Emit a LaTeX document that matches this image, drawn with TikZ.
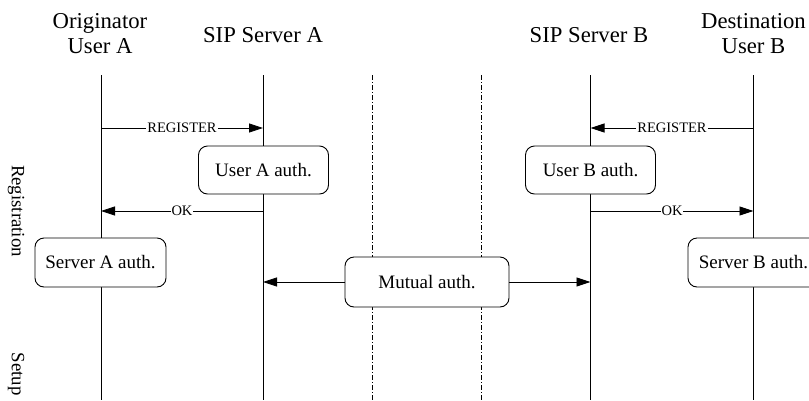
\documentclass[tikz,border=0pt]{standalone}
\usepackage{fontspec}
\setmainfont{Liberation Serif}
\usetikzlibrary{arrows.meta}
\begin{document}
\begin{tikzpicture}[x=1pt,y=-1pt,
  life/.style={line width=0.8pt},
  divider/.style={line width=0.6pt, dash pattern=on 5pt off 2pt on 1pt off 2pt},
  actbox/.style={draw, line width=0.9pt, rounded corners=9pt, fill=white,
    font=\fontsize{19}{22}\selectfont, inner sep=0pt},
  msg/.style={line width=0.8pt, -{Triangle[length=14pt,width=9pt]}},
  lbl/.style={fill=white, inner sep=1pt, font=\fontsize{14.5}{16}\selectfont},
  head/.style={font=\fontsize{22.7}{25}\selectfont, anchor=base},
  phase/.style={font=\fontsize{18.8}{21}\selectfont, rotate=-90, anchor=base}]

\useasboundingbox (0,0) rectangle (809,400);
\clip (0,0) rectangle (809,400);

% column headers
\node[head] (hUA1) at (100,28) {Originator};
\node[head] (hUA2) at (100,53) {User A};
\node[head] (hSA)  at (263,42) {SIP Server A};
\node[head] (hSB)  at (589,42) {SIP Server B};
\node[head] (hUB1) at (753.5,28) {Destination};
\node[head] (hUB2) at (753.5,53) {User B};

% phase labels
\node[phase] (pReg)   at (12,211) {Registration};
\node[phase] (pSetup) at (12,374) {Setup};

% lifelines and domain dividers
\coordinate (ua-t) at (101,75);   \coordinate (ua-b) at (101,400);
\coordinate (sa-t) at (263,75);   \coordinate (sa-b) at (263,400);
\coordinate (sb-t) at (590.5,75); \coordinate (sb-b) at (590.5,400);
\coordinate (ub-t) at (753.5,75); \coordinate (ub-b) at (753.5,400);
\coordinate (d1-t) at (372.5,75); \coordinate (d1-b) at (372.5,400);
\coordinate (d2-t) at (481.5,75); \coordinate (d2-b) at (481.5,400);

\draw[life] (ua-t) -- (ua-b);
\draw[life] (sa-t) -- (sa-b);
\draw[life] (sb-t) -- (sb-b);
\draw[life] (ub-t) -- (ub-b);
\draw[divider] (d1-t) -- (d1-b);
\draw[divider] (d2-t) -- (d2-b);

% registration messages
\coordinate (ua-r) at (101,128);   \coordinate (sa-r) at (263,128);
\coordinate (sb-r) at (590.5,128); \coordinate (ub-r) at (753.5,128);
\draw[msg] (ua-r) -- node[lbl] {REGISTER} (sa-r);
\draw[msg] (ub-r) -- node[lbl] {REGISTER} (sb-r);

\node[actbox, minimum width=130pt, minimum height=48pt] (authUA) at (263.5,170) {User A auth.};
\node[actbox, minimum width=130pt, minimum height=48pt] (authUB) at (590.5,170) {User B auth.};

\coordinate (sa-o) at (263,211);   \coordinate (ua-o) at (101,211);
\coordinate (sb-o) at (590.5,211); \coordinate (ub-o) at (753.5,211);
\draw[msg] (sa-o) -- node[lbl] {OK} (ua-o);
\draw[msg] (sb-o) -- node[lbl] {OK} (ub-o);

\node[actbox, minimum width=131pt, minimum height=49pt] (authSA) at (100.5,262.5) {Server A auth.};
\node[actbox, minimum width=131pt, minimum height=49pt] (authSB) at (753.5,262.5) {Server B auth.};

% server-to-server authentication
\node[actbox, minimum width=164pt, minimum height=50pt] (mutual) at (427,282) {Mutual auth.};
\coordinate (sa-m) at (263,282); \coordinate (sb-m) at (590.5,282);
\draw[msg] (mutual.west) -- (sa-m);
\draw[msg] (mutual.east) -- (sb-m);
\end{tikzpicture}
\end{document}
